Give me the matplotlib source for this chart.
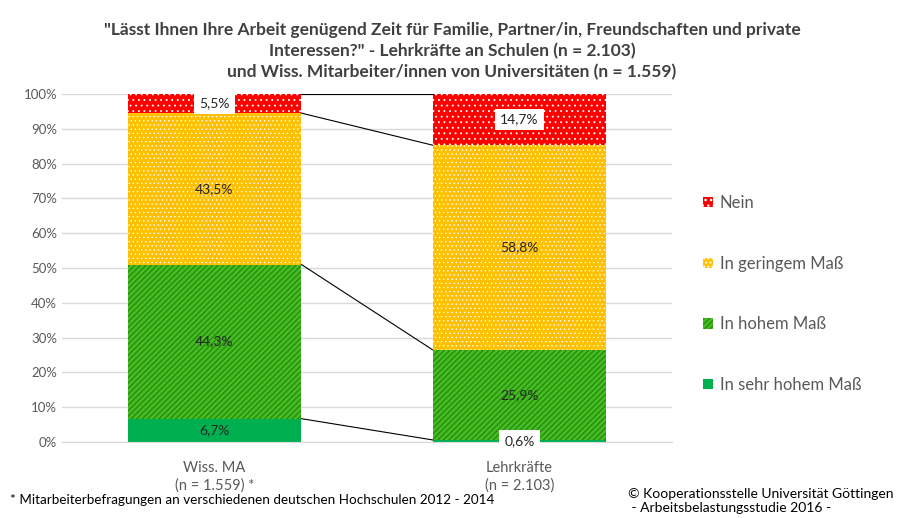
import numpy as np
import matplotlib
matplotlib.use('Agg')
import matplotlib.pyplot as plt
from matplotlib.patches import Patch

plt.rcParams['font.family'] = ['Lato', 'DejaVu Sans']

# data
categories = ['Wiss. MA\n(n = 1.559) *', 'Lehrkräfte\n(n = 2.103)']
series = ['In sehr hohem Maß', 'In hohem Maß', 'In geringem Maß', 'Nein']
sehr_hohem = [6.7, 0.6]
hohem = [44.3, 25.9]
geringem = [43.5, 58.8]
nein = [5.5, 14.7]
yticks = [0, 10, 20, 30, 40, 50, 60, 70, 80, 90, 100]

colors = ['#00B050', '#44BE22', '#FFC000', '#FF0000']
hatch_colors = ['#00B050', '#2A8A10', '#FFFFFF', '#FFFFFF']
hatches = ['', '//////', '....', '...']
hatch_lw = [1.0, 1.0, 0.5, 0.6]

fig = plt.figure(figsize=(9.04, 5.18), dpi=100)
ax = fig.add_axes([62 / 904, 1 - 442 / 518, (672 - 62) / 904, (442 - 94) / 518])

x = np.arange(len(categories))
w = 0.57
values = [sehr_hohem, hohem, geringem, nein]
bottom = np.zeros(len(categories))
tops = []
handles = []
for i, (vals, lab) in enumerate(zip(values, series)):
    vals = np.array(vals)
    with plt.rc_context({'hatch.linewidth': hatch_lw[i]}):
        ax.bar(x, vals, w, bottom=bottom, color=colors[i], edgecolor=hatch_colors[i],
               hatch=hatches[i], linewidth=0, label=lab, zorder=2)
        handles.append(Patch(facecolor=colors[i], edgecolor=hatch_colors[i],
                             hatch=hatches[i], linewidth=0))
    for xi, b, v in zip(x, bottom, vals):
        txt = f'{v:.1f}%'.replace('.', ',')
        kw = {}
        if lab == 'Nein' or v < 1:
            kw['bbox'] = dict(boxstyle='square,pad=0.35', fc='white', ec='none')
        ax.text(xi, b + v / 2, txt, ha='center', va='center', fontsize=10,
                color='#262626', zorder=4, **kw)
    bottom = bottom + vals
    tops.append(bottom.copy())

# series lines between bars
for t in tops:
    ax.plot([x[0] + w / 2, x[1] - w / 2], [t[0], t[1]], color='#000000',
            linewidth=0.8, zorder=3)

ax.set_xlim(-0.5, 1.5)
ax.set_ylim(0, 100)
ax.set_yticks(yticks)
ax.set_yticklabels([f'{v}%' for v in yticks])
ax.set_xticks(x)
ax.set_xticklabels(categories, linespacing=1.3)
ax.tick_params(axis='both', length=0, labelsize=9.5, colors='#595959')
ax.tick_params(axis='x', pad=14, labelsize=10.5)
ax.grid(axis='y', color='#D9D9D9', linewidth=1, zorder=0)
ax.set_axisbelow(True)
for s in ['top', 'right', 'left']:
    ax.spines[s].set_visible(False)
ax.spines['bottom'].set_color('#D9D9D9')

leg = fig.legend(handles[::-1], series[::-1], loc='upper left',
                 bbox_to_anchor=(688 / 904, 1 - 180 / 518), frameon=False,
                 fontsize=12, labelspacing=2.68, handlelength=0.6,
                 handleheight=0.6, handletextpad=0.4, labelcolor='#595959')

fig.text(0.5, 0.957,
         '"Lässt Ihnen Ihre Arbeit genügend Zeit für Familie, Partner/in, Freundschaften und private\n'
         'Interessen?" - Lehrkräfte an Schulen (n = 2.103)\n'
         'und Wiss. Mitarbeiter/innen von Universitäten (n = 1.559)',
         ha='center', va='top', fontsize=12.5, fontweight='bold',
         color='#404040', linespacing=1.35)

fig.text(10 / 904, 1 - 500 / 518,
         '* Mitarbeiterbefragungen an verschiedenen deutschen Hochschulen 2012 - 2014',
         ha='left', va='center', fontsize=9.7, color='#000000')
fig.text(628 / 904, 1 - 501 / 518,
         '© Kooperationsstelle Universität Göttingen\n - Arbeitsbelastungsstudie 2016 -',
         ha='left', va='center', fontsize=10, color='#000000', linespacing=1.2)

fig.savefig('out.png', dpi=100)
